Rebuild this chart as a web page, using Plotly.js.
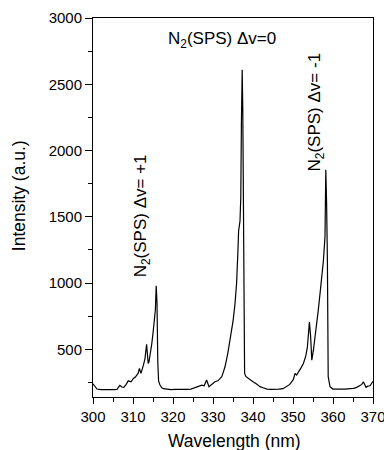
<!DOCTYPE html>
<html>
<head>
<meta charset="utf-8">
<script src="https://cdn.plot.ly/plotly-3.0.1.min.js"></script>
<style>html,body{margin:0;padding:0;background:#fff;}#chart{width:384px;height:450px;}</style>
</head>
<body>
<div id="chart"></div>
<script>
const wavelength = [300.0,300.5,301.0,302,303,304,305,306,306.7,307.2,307.7,308.3,308.8,309.5,310.1,310.6,310.9,311.3,311.6,312.0,312.6,313.0,313.4,313.8,314.0,314.4,314.7,315.0,315.3,315.6,315.8,316.0,316.2,316.4,316.75,317.2,317.6,318.5,319.5,320.5,321.5,322.5,323.5,324.5,325.5,326.3,327.2,327.8,328.4,329.0,329.7,330.5,331.2,331.8,332.2,332.6,333.0,333.7,334.4,335.0,335.5,335.9,336.2,336.4,336.75,336.95,337.1,337.3,337.45,337.6,337.75,337.9,338.2,338.8,339.3,340,340.8,341.75,342.5,343.5,344.5,345.5,346.5,347.5,348.4,349.2,350.1,350.5,350.9,351.5,352.0,352.6,353.2,353.6,354.1,354.4,354.7,355.1,355.5,355.9,356.3,356.75,357.2,357.6,358.0,358.2,358.4,358.6,358.8,359.25,360,361,362,363,364.25,365.2,365.9,366.6,367.2,367.6,368.25,368.7,369.25,369.9,370];
const intensity = [240,215,200,195,194,195,195,198,228,215,212,235,262,255,280,290,305,320,355,318,380,430,538,393,405,470,543,620,718,800,980,850,400,260,230,210,203,198,196,197,196,198,197,199,210,215,230,225,268,218,235,255,262,285,293,330,368,470,593,710,843,1000,1218,1393,1468,1650,2200,2610,2300,1500,700,320,295,280,268,255,240,218,210,200,198,197,200,203,218,235,273,318,305,330,360,393,450,518,705,600,418,493,580,668,790,918,1040,1168,1350,1855,1600,1168,293,218,200,198,197,199,203,205,213,225,235,255,213,222,225,255,258];
const xTicks = [300,310,320,330,340,350,360,370];
const yTicks = [500,1000,1500,2000,2500,3000];
const labels = ["N<sub>2</sub>(SPS) \u0394v=0", "N<sub>2</sub>(SPS) \u0394v= +1", "N<sub>2</sub>(SPS) \u0394v= -1"];
const xTitle = "Wavelength (nm)";
const yTitle = "Intensity (a.u.)";

const font = "Liberation Sans, Arial, sans-serif";
const trace = {x: wavelength, y: intensity, type: 'scatter', mode: 'lines',
  line: {color: '#000', width: 1.2}, hoverinfo: 'skip', cliponaxis: false};

const layout = {
  width: 384, height: 450,
  margin: {l: 93, r: 11, t: 18, b: 53},
  paper_bgcolor: '#fff', plot_bgcolor: '#fff',
  showlegend: false,
  font: {family: font, color: '#000', size: 15},
  xaxis: {range: [300, 370], tickvals: xTicks, ticks: 'outside', ticklen: 6, tickwidth: 1,
    tickcolor: '#000', showline: true, linecolor: '#000', linewidth: 1, mirror: true,
    showgrid: false, zeroline: false, tickfont: {size: 15, family: font},
    ticklabeloverflow: 'allow',
    minor: {dtick: 5, ticks: 'outside', ticklen: 4, tickcolor: '#000', showgrid: false}},
  yaxis: {range: [140, 3000], tickvals: yTicks, ticks: 'outside', ticklen: 7, tickwidth: 1,
    tickcolor: '#000', showline: true, linecolor: '#000', linewidth: 1, mirror: true,
    showgrid: false, zeroline: false, tickfont: {size: 15, family: font},
    minor: {tickvals: [250,750,1250,1750,2250,2750], ticks: 'outside', ticklen: 4, tickcolor: '#000', showgrid: false}},
  annotations: [
    {text: xTitle, x: 0.504, y: -0.116, xref: 'paper', yref: 'paper', showarrow: false,
     font: {size: 17.5, family: font}, xanchor: 'center', yanchor: 'middle'},
    {text: yTitle, x: -0.264, y: 0.53, xref: 'paper', yref: 'paper', showarrow: false, textangle: -90,
     font: {size: 17.5, family: font}, xanchor: 'center', yanchor: 'middle'},
    {text: labels[0], x: 0.46, y: 0.942, xref: 'paper', yref: 'paper', showarrow: false,
     font: {size: 17, family: font}, xanchor: 'center', yanchor: 'middle'},
    {text: labels[1], x: 312.3, y: 1505, xref: 'x', yref: 'y', showarrow: false, textangle: -90,
     font: {size: 17, family: font}, xanchor: 'center', yanchor: 'middle'},
    {text: labels[2], x: 355.7, y: 2293, xref: 'x', yref: 'y', showarrow: false, textangle: -90,
     font: {size: 17, family: font}, xanchor: 'center', yanchor: 'middle'}
  ]
};
Plotly.newPlot('chart', [trace], layout, {staticPlot: true, displayModeBar: false});
</script>
</body>
</html>
